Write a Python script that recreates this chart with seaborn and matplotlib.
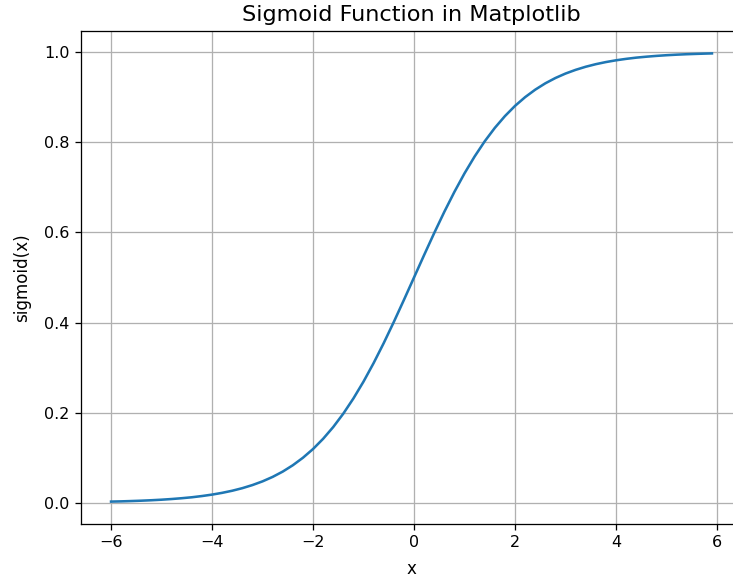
import matplotlib
matplotlib.use("Agg")
import matplotlib.pyplot as plt
import seaborn as sns
import pandas as pd

x_vals = [-6.0, -5.8, -5.6, -5.4, -5.2, -5.0, -4.8, -4.6, -4.4, -4.2,
          -4.0, -3.8, -3.6, -3.4, -3.2, -3.0, -2.8, -2.6, -2.4, -2.2,
          -2.0, -1.8, -1.6, -1.4, -1.2, -1.0, -0.8, -0.6, -0.4, -0.2,
          0.0, 0.2, 0.4, 0.6, 0.8, 1.0, 1.2, 1.4, 1.6, 1.8,
          2.0, 2.2, 2.4, 2.6, 2.8, 3.0, 3.2, 3.4, 3.6, 3.8,
          4.0, 4.2, 4.4, 4.6, 4.8, 5.0, 5.2, 5.4, 5.6, 5.8, 5.9]
y_vals = [0.0025, 0.0030, 0.0037, 0.0045, 0.0055, 0.0067, 0.0082, 0.0100, 0.0121, 0.0148,
          0.0180, 0.0219, 0.0266, 0.0323, 0.0392, 0.0474, 0.0573, 0.0691, 0.0832, 0.0998,
          0.1192, 0.1419, 0.1680, 0.1978, 0.2315, 0.2689, 0.3100, 0.3543, 0.4013, 0.4502,
          0.5000, 0.5498, 0.5987, 0.6457, 0.6900, 0.7311, 0.7685, 0.8022, 0.8320, 0.8581,
          0.8808, 0.9002, 0.9168, 0.9309, 0.9427, 0.9526, 0.9608, 0.9677, 0.9734, 0.9781,
          0.9820, 0.9852, 0.9879, 0.9900, 0.9918, 0.9933, 0.9945, 0.9955, 0.9963, 0.9970, 0.9973]

df = pd.DataFrame({"x": x_vals, "sigmoid(x)": y_vals})

fig = plt.figure(figsize=(733/115, 585/115), dpi=115)
ax = fig.add_axes([81/733, (585-524)/585, 661/733, (524-31)/585])
sns.lineplot(data=df, x="x", y="sigmoid(x)", ax=ax, color="#1f77b4", linewidth=1.6)
ax.set_title("Sigmoid Function in Matplotlib", fontsize=14)
ax.set_xlabel("x", fontsize=10.5, labelpad=6)
ax.set_ylabel("sigmoid(x)", fontsize=10.5, labelpad=8)
ax.grid(True)
fig.savefig("out.png", dpi=115)
